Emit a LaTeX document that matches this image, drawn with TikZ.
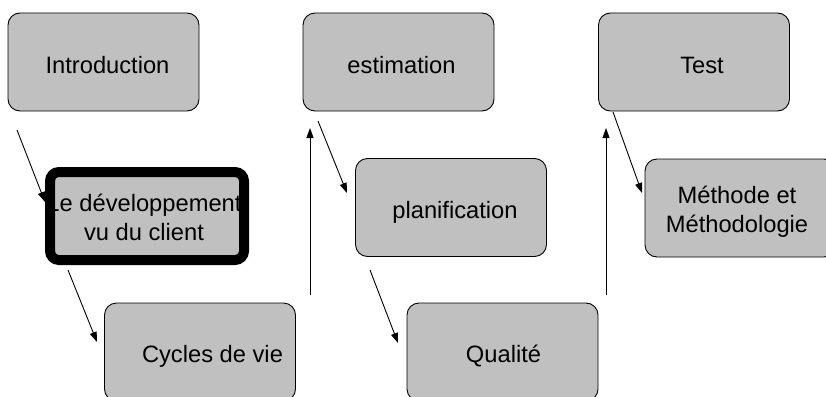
\documentclass[tikz,border=0pt]{standalone}
\usepackage{fontspec}
\setmainfont{Liberation Sans}
\usetikzlibrary{arrows.meta}
\definecolor{boxgray}{HTML}{C0C0C0}
\tikzset{
  box/.style={draw=black, line width=0.9pt, fill=boxgray, rounded corners=12pt,
    minimum width=191pt, minimum height=98pt, inner sep=0pt},
  thickbox/.style={draw=black, line width=10pt, fill=boxgray, rounded corners=9pt,
    minimum width=194pt, minimum height=88pt, inner sep=0pt},
  txt/.style={anchor=base, inner sep=0pt, align=center,
    font=\fontsize{23.7pt}{28.5pt}\selectfont},
  arr/.style={line width=0.9pt, -{Triangle[length=10pt,width=7pt]}}
}
\begin{document}
\begin{tikzpicture}[x=1pt,y=-1pt]
\useasboundingbox (0,0) rectangle (826,396);
\fill[white] (0,0) rectangle (826,396);
\begin{scope}
\clip (0,0) rectangle (826,396);
% boxes
\node[box] (intro) at (103.5,62) {};
\node[box] (estim) at (398.5,62) {};
\node[box] (test) at (694,62) {};
\node[thickbox] (dev) at (147,216) {};
\node[box] (plan) at (451,207.5) {};
\node[box] (meth) at (740.5,208) {};
\node[box] (cycles) at (200,352) {};
\node[box] (qual) at (502.5,352) {};
% texts
\node[txt] (introt) at (107.5,73) {Introduction};
\node[txt] (estimt) at (401.5,73) {estimation};
\node[txt] (testt) at (702,73) {Test};
\node[txt] (devt) at (144,240) {Le développement\\vu du client};
\node[txt] (plant) at (455,218) {planification};
\node[txt] (metht) at (737,232) {Méthode et\\Méthodologie};
\node[txt] (cyclest) at (212.5,362) {Cycles de vie};
\node[txt] (qualt) at (503.5,362) {Qualité};
% connector end points
\coordinate (intro-out) at (17,130);
\coordinate (dev-in) at (45,202);
\coordinate (dev-out) at (68,270);
\coordinate (cycles-in) at (97,342);
\coordinate (cycles-out) at (310,295);
\coordinate (estim-in) at (310,128);
\coordinate (estim-out) at (318,121);
\coordinate (plan-in) at (347,193);
\coordinate (plan-out) at (370,270);
\coordinate (qual-in) at (398,343);
\coordinate (qual-out) at (606,295);
\coordinate (test-in) at (606,128);
\coordinate (test-out) at (613,112);
\coordinate (meth-in) at (642,193);
% connectors
\draw[arr] (intro-out) -- (dev-in);
\draw[arr] (dev-out) -- (cycles-in);
\draw[arr] (cycles-out) -- (estim-in);
\draw[arr] (estim-out) -- (plan-in);
\draw[arr] (plan-out) -- (qual-in);
\draw[arr] (qual-out) -- (test-in);
\draw[arr] (test-out) -- (meth-in);
\end{scope}
\end{tikzpicture}
\end{document}
